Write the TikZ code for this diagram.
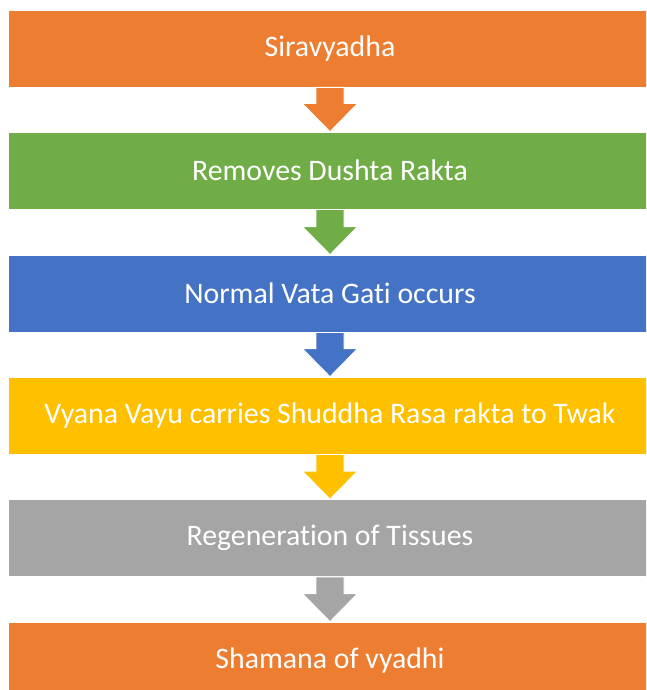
\documentclass[tikz,border=0pt]{standalone}
\usepackage{fontspec}
\setmainfont{Carlito}[Ligatures={NoCommon}]
\usetikzlibrary{calc}
\definecolor{cOrange}{HTML}{ED7D31}
\definecolor{cGreen}{HTML}{70AD47}
\definecolor{cBlue}{HTML}{4472C4}
\definecolor{cYellow}{HTML}{FFC000}
\definecolor{cGray}{HTML}{A5A5A5}
\tikzset{
  flowbox/.style={draw=white, line width=0.8pt, minimum width=644pt, minimum height=77pt,
    inner sep=0pt, text=white, font=\fontsize{29.8}{34}\selectfont},
  blockarrow/.style={fill=#1, draw=white, line width=0.8pt, line join=miter}
}
\newcommand\flowarrow[3]{%
  \path[blockarrow=#3]
    ($(#1.south)+(-14,0)$) -- ($(#1.south)+(14,0)$) -- ($(#2.north)+(14,28)$)
    -- ($(#2.north)+(27.5,28)$) -- (#2.north) -- ($(#2.north)+(-27.5,28)$)
    -- ($(#2.north)+(-14,28)$) -- cycle;}
\begin{document}
\begin{tikzpicture}[x=1pt,y=1pt]
\useasboundingbox (0,0) rectangle (646,-690);
\clip (0,0) rectangle (646,-690);
\fill[white] (0,0) rectangle (646,-690);
\node[flowbox, fill=cOrange] (b1) at (330,-48.5) {Siravyadha};
\node[flowbox, fill=cGreen] (b2) at (330,-170.5) {Removes Dushta Rakta};
\node[flowbox, fill=cBlue] (b3) at (330,-293.5) {Normal Vata Gati occurs};
\node[flowbox, fill=cYellow] (b4) at (330,-415.5) {Vyana Vayu carries Shuddha Rasa rakta to Twak};
\node[flowbox, fill=cGray] (b5) at (330,-538) {Regeneration of Tissues};
\node[flowbox, fill=cOrange] (b6) at (330,-660.5) {Shamana of vyadhi};
\flowarrow{b1}{b2}{cOrange}
\flowarrow{b2}{b3}{cGreen}
\flowarrow{b3}{b4}{cBlue}
\flowarrow{b4}{b5}{cYellow}
\flowarrow{b5}{b6}{cGray}
\end{tikzpicture}
\end{document}
